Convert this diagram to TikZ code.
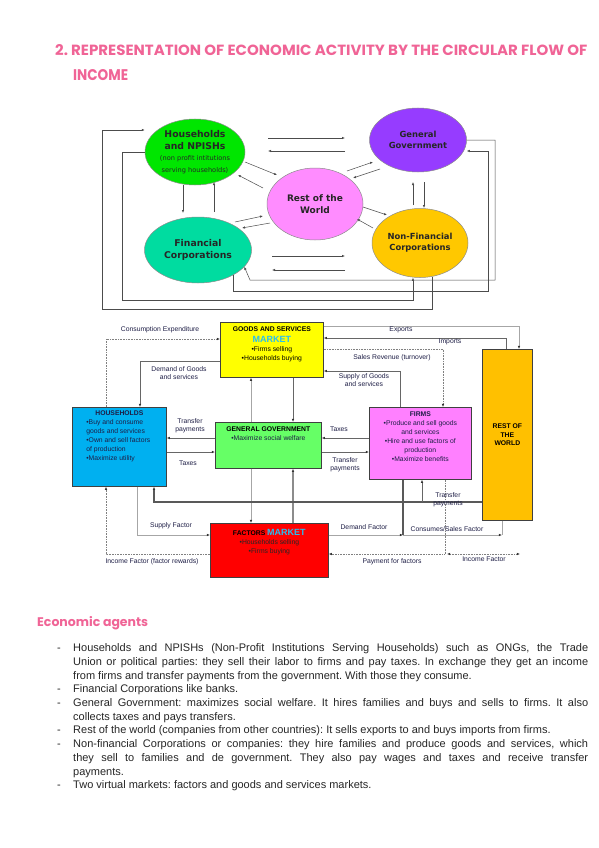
\documentclass[tikz,border=0pt]{standalone}
\usepackage{graphicx,xcolor}
\usepackage{fontspec}
\setmainfont{Liberation Sans}
\newfontfamily\ellfont{DejaVu Sans}
\newfontfamily\ttlfont{Poppins}
\usetikzlibrary{arrows.meta,shapes.geometric}
\frenchspacing

\definecolor{pinkttl}{RGB}{240,100,150}
\definecolor{hhgreen}{RGB}{0,230,0}
\definecolor{fcteal}{RGB}{0,220,160}
\definecolor{rowpink}{RGB}{255,140,255}
\definecolor{ggpurple}{RGB}{150,60,255}
\definecolor{nfcgold}{RGB}{255,200,0}
\definecolor{gsyellow}{RGB}{255,255,0}
\definecolor{hhblue}{RGB}{0,176,240}
\definecolor{gggreen}{RGB}{102,255,102}
\definecolor{firmpink}{RGB}{255,128,255}
\definecolor{roworange}{RGB}{255,192,0}
\definecolor{mktcyan}{RGB}{40,190,240}
\definecolor{lblnavy}{RGB}{30,30,70}

\newcommand{\mktext}[4]{\parbox[t][#2][t]{#1}{\vspace*{#3}#4}}
\newcommand{\jl}[1]{\makebox[515pt][s]{#1}}

\begin{document}
\begin{tikzpicture}[x=1pt,y=-1pt,
  every node/.style={font=\fontsize{6.8}{9}\selectfont},
  ell/.style={ellipse,draw=black!45,line width=0.5pt,inner sep=0pt,align=center,text=black!85},
  mbox/.style={draw=black!75,line width=0.7pt,anchor=north west,inner sep=0pt,text=lblnavy},
  lbl/.style={text=lblnavy,align=center,inner sep=0pt,font=\fontsize{6.8}{8}\selectfont},
  arr/.style={-{Latex[length=3.2pt,width=2.6pt,color=black!80]}},
  ar1/.style={draw=black!70,line width=0.5pt,-{Latex[length=3pt,width=2.4pt]}},
  lt/.style={draw=black!35,line width=0.6pt},
  md/.style={draw=black!60,line width=0.8pt},
  dk/.style={draw=black!65,line width=1.4pt},
  gy/.style={draw=black!45,line width=1.4pt},
  dt/.style={draw=black!50,line width=0.6pt,densely dotted},
  itemtxt/.style={anchor=north west,inner sep=0pt,align=left,text=black!85,font=\fontsize{11}{13.7}\selectfont},
  bulletdash/.style={anchor=base west,inner sep=0pt,text=black!85,font=\fontsize{11}{13.7}\selectfont}]

\fill[white] (0,0) rectangle (599,848);
\useasboundingbox (0,0) rectangle (599,848);

% title
\node[anchor=base west,inner sep=0pt,text=pinkttl] (ttl1) at (55,56) {\resizebox{532pt}{11pt}{\ttlfont\bfseries 2. REPRESENTATION OF ECONOMIC ACTIVITY BY THE CIRCULAR FLOW OF}};
\node[anchor=base west,inner sep=0pt,text=pinkttl] (ttl2) at (73,81) {\resizebox{55pt}{11pt}{\ttlfont\bfseries INCOME}};

% sectors
\node[ell,fill=hhgreen,minimum width=100pt,minimum height=66pt,font=\ellfont\bfseries\fontsize{9.3}{11.5}\selectfont] (hhe) at (195,152) {Households\\and NPISHs\\{\mdseries\fontsize{6.6}{7.5}\selectfont (non profit intitutions}\\{\mdseries\fontsize{6.6}{7.5}\selectfont serving households)}};
\node[ell,fill=fcteal,minimum width=107pt,minimum height=66pt,font=\ellfont\bfseries\fontsize{9.3}{11.5}\selectfont] (fce) at (198,250) {Financial\\Corporations};
\node[ell,fill=rowpink,minimum width=96pt,minimum height=72pt,font=\ellfont\bfseries\fontsize{9}{11.5}\selectfont] (rowe) at (315,204) {Rest of the\\World};
\node[ell,fill=ggpurple,minimum width=97pt,minimum height=64pt,font=\ellfont\bfseries\fontsize{8.4}{11}\selectfont] (gge) at (418,140) {General\\Government};
\node[ell,fill=nfcgold,minimum width=96pt,minimum height=69pt,font=\ellfont\bfseries\fontsize{8.4}{11}\selectfont] (nfce) at (420,243) {Non-Financial\\Corporations};

\draw[ar1] ([shift={(73,-14)}]hhe.center) -- ([shift={(-73,-2)}]gge.center);
\draw[ar1] ([shift={(-73,11)}]gge.center) -- ([shift={(73,-1)}]hhe.center);
\draw[ar1] ([shift={(50,10)}]hhe.center) -- ([shift={(-38,-29)}]rowe.center);
\draw[ar1] ([shift={(-52,-16)}]rowe.center) -- ([shift={(43,23)}]hhe.center);
\draw[ar1] ([shift={(37,-28)}]fce.center) -- ([shift={(-52,12)}]rowe.center);
\draw[ar1] ([shift={(-45,19)}]rowe.center) -- ([shift={(44,-22)}]fce.center);
\draw[ar1] ([shift={(-12,33)}]hhe.center) -- ([shift={(-15,-37)}]fce.center);
\draw[ar1] ([shift={(16,-38)}]fce.center) -- ([shift={(19,30)}]hhe.center);
\draw[ar1] ([shift={(32,-33)}]rowe.center) -- ([shift={(-45,22)}]gge.center);
\draw[ar1] ([shift={(-38,29)}]gge.center) -- ([shift={(38,-26)}]rowe.center);
\draw[ar1] ([shift={(48,3)}]rowe.center) -- ([shift={(-33,-28)}]nfce.center);
\draw[ar1] ([shift={(-47,-15)}]nfce.center) -- ([shift={(42,15)}]rowe.center);
\draw[ar1] ([shift={(-7,-38)}]nfce.center) -- ([shift={(-5,42)}]gge.center);
\draw[ar1] ([shift={(6,42)}]gge.center) -- ([shift={(4,-35)}]nfce.center);
\draw[ar1] ([shift={(74,6)}]fce.center) -- ([shift={(-75,13)}]nfce.center);
\draw[ar1] ([shift={(-75,27)}]nfce.center) -- ([shift={(74,20)}]fce.center);

\draw[ar1] (nfce.-70) |- (102,309) |- (hhe.west |- 0,130);
\draw[ar1] (hhe.west) -- (122,152) |- (413,300) -- (nfce.south -| 413,0);
\draw[ar1] (fce.-35) -- ++(0,16) -| (488,151) -- (gge.east |- 0,151);
\draw[ar1] (gge.east) -| (495,280) -- (250,280) -- (fce.-20);

% markets and agents
\node[mbox,fill=gsyellow] (gsm) at (220,322) {\mktext{103pt}{55pt}{4.3pt}{\centering{\bfseries\color{black} GOODS AND SERVICES}\\[2pt]{\bfseries\fontsize{9}{9}\selectfont\color{mktcyan}MARKET}\\\color{black}•Firms selling\\•Households buying}};
\node[mbox,fill=hhblue] (hhb) at (72,407) {\mktext{94pt}{79pt}{3.8pt}{{\centering\bfseries HOUSEHOLDS\par}\raggedright\leftskip=14pt •Buy and consume\\goods and services\\•Own and sell factors\\of production\\•Maximize utility}};
\node[mbox,fill=gggreen] (ggb) at (215,422) {\mktext{106pt}{46pt}{4.6pt}{\centering{\bfseries\color{black} GENERAL GOVERNMENT}\\•Maximize social welfare}};
\node[mbox,fill=firmpink] (firms) at (369,407) {\mktext{102pt}{72pt}{4.6pt}{\centering{\bfseries FIRMS}\\•Produce and sell goods\\and services\\•Hire and use factors of\\production\\•Maximize benefits}};
\node[mbox,fill=roworange,minimum width=50pt,minimum height=171pt,align=center,text=black,font=\bfseries\fontsize{6.8}{8.5}\selectfont] (rowb) at (482,349) {REST OF\\THE\\WORLD};
\node[mbox,fill=red,text=black!85] (fm) at (210,523) {\mktext{118pt}{54pt}{5.8pt}{\centering{\bfseries\color{black} FACTORS {\fontsize{9}{9}\selectfont\color{mktcyan}MARKET}}\\•Households selling\\•Firms buying}};

\coordinate (trj) at (422,502);
\coordinate (dfc) at (403,535);
\coordinate (csf) at (502,535);
\coordinate (ifl) at (447,554);
\coordinate (ifr) at (520,554);

\draw[dt,arr] (hhb.north -| 106,0) |- (gsm.west |- 0,339);
\draw[md,arr] (gsm.west |- 0,361) -| (hhb.north -| 140,0);
\draw[lt,arr] (gsm.east |- 0,326) -| (rowb.north -| 519,0);
\draw[md,arr] (rowb.north -| 506,0) |- (gsm.east |- 0,338);
\draw[dt,arr] (gsm.east |- 0,349) -| (firms.north -| 443,0);
\draw[md,arr] (firms.north -| 400,0) |- (gsm.east |- 0,371);
\draw[md,arr] (gsm.south -| 293,0) -- (ggb.north -| 293,0);
\draw[lt,arr] (ggb.north -| 251,0) -- (gsm.south -| 251,0);
\draw[lt,arr] (ggb.south -| 251,0) -- (fm.north -| 251,0);
\draw[gy,arr] (fm.north -| 293,0) -- (ggb.south -| 293,0);
\draw[md,arr] (ggb.west |- 0,438) -- (hhb.east |- 0,438);
\draw[md,arr] (hhb.east |- 0,452) -- (ggb.west |- 0,452);
\draw[md,arr] (firms.west |- 0,438) -- (ggb.east |- 0,438);
\draw[md,arr] (ggb.east |- 0,452) -- (firms.west |- 0,452);
\draw[dk,arr] (rowb.west |- 0,502) -| (hhb.south -| 154,0);
\draw[md,arr] (trj) -- (firms.south -| 422,0);
\draw[dk] (firms.south -| 403,0) -- (dfc);
\draw[lt,arr] (fm.east |- 0,535) -- (dfc);
\draw[lt] (rowb.south -| 502,0) -- (csf);
\draw[lt,arr] (dfc) -- (csf);
\draw[dt,arr] (firms.south -| 445,0) |- (fm.east |- 0,554);
\draw[dt,{Latex[length=3.2pt,width=2.6pt,color=black!80]}-{Latex[length=3.2pt,width=2.6pt,color=black!80]}] (ifl) -- (ifr);
\draw[dt,arr] (fm.west |- 0,554) -| (hhb.south -| 106,0);
\draw[lt,arr] (hhb.south -| 137,0) |- (fm.west |- 0,535);

\node[lbl] (lcons) at (160,330) {Consumption Expenditure};
\node[lbl] (ldem) at (179,373) {Demand of Goods\\and services};
\node[lbl] (lexp) at (401,330) {Exports};
\node[lbl] (limp) at (450,342) {Imports};
\node[lbl] (lsal) at (392,358) {Sales Revenue (turnover)};
\node[lbl] (lsup) at (364,380) {Supply of Goods\\and services};
\node[lbl] (ltr1) at (190,426) {Transfer\\payments};
\node[lbl] (ltx1) at (188,463) {Taxes};
\node[lbl] (ltx2) at (339,429) {Taxes};
\node[lbl] (ltr2) at (345,465) {Transfer\\payments};
\node[lbl] (ltr3) at (448,500) {Transfer\\payments};
\node[lbl] (lsf) at (171,526) {Supply Factor};
\node[lbl] (ldf) at (364,527) {Demand Factor};
\node[lbl] (lcs) at (447,529) {Consumes/Sales Factor};
\node[lbl] (lpf) at (392,562) {Payment for factors};
\node[lbl] (lif1) at (484,559) {Income Factor};
\node[lbl] (lif2) at (152,562) {Income Factor (factor rewards)};

% economic agents
\node[anchor=base west,inner sep=0pt,text=pinkttl,font=\ttlfont\bfseries\fontsize{12.5}{14}\selectfont] (agents) at (37,626) {Economic agents};
\foreach \k in {0,3,4,6,7,10}
  \node[bulletdash] (dash\k) at (57,{651.5+13.7*\k}) {-};
\node[itemtxt] (agentlist) at (73,643.6) {\jl{Households and NPISHs (Non-Profit Institutions Serving Households) such as ONGs, the Trade}\\
\jl{Union or political parties: they sell their labor to firms and pay taxes. In exchange they get an income}\\
from firms and transfer payments from the government. With those they consume.\\
Financial Corporations like banks.\\
\jl{General Government: maximizes social welfare. It hires families and buys and sells to firms. It also}\\
collects taxes and pays transfers.\\
Rest of the world (companies from other countries): It sells exports to and buys imports from firms.\\
\jl{Non-financial Corporations or companies: they hire families and produce goods and services, which}\\
\jl{they sell to families and de government. They also pay wages and taxes and receive transfer}\\
payments.\\
Two virtual markets: factors and goods and services markets.};
\end{tikzpicture}
\end{document}
